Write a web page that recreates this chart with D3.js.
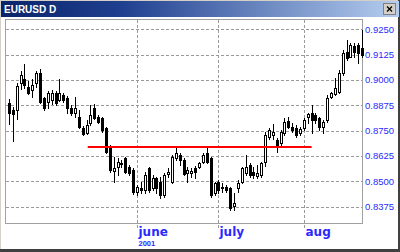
<!DOCTYPE html>
<html>
<head>
<meta charset="utf-8">
<script src="https://cdn.jsdelivr.net/npm/d3@7"></script>
<style>
  body { margin: 0; background: #fff; }
  svg { display: block; }
</style>
</head>
<body>
<svg id="chart" width="400" height="252"></svg>
<script>
// daily EURUSD candles, mid april -> late august 2001
let opens = [
  .8886, .8851, .8851, .8985, .9004, .8965, .8950, .8985, .9034, .8911,
  .8891, .8901, .8935, .8901, .8925, .8911, .8861, .8837, .8817, .8762,
  .8738, .8787, .8861, .8817, .8812, .8762, .8669, .8550, .8570, .8590,
  .8614, .8570, .8555, .8446, .8466, .8456, .8565, .8466, .8515, .8496,
  .8431, .8535, .8496, .8614, .8629, .8604, .8540, .8540, .8565, .8570,
  .8594, .8639, .8614, .8441, .8496, .8466, .8471, .8466, .8377, .8466,
  .8496, .8540, .8580, .8545, .8525, .8530, .8594, .8718, .8728, .8703,
  .8688, .8738, .8797, .8767, .8762, .8738, .8762, .8817, .8837, .8827,
  .8812, .8767, .8802, .8916, .8930, .8940, .9034, .9138, .9113, .9167,
  .9172, .9158
]
let highs = [
  .8906, .8866, .8985, .9044, .9079, .8995, .9004, .9044, .9054, .8916,
  .8945, .8950, .8945, .9004, .8935, .8921, .8876, .8916, .8851, .8772,
  .8802, .8876, .8881, .8827, .8817, .8767, .8678, .8619, .8614, .8604,
  .8619, .8580, .8565, .8481, .8496, .8545, .8570, .8530, .8520, .8520,
  .8540, .8565, .8629, .8664, .8639, .8614, .8570, .8565, .8575, .8594,
  .8639, .8664, .8619, .8496, .8506, .8491, .8481, .8471, .8441, .8506,
  .8570, .8629, .8590, .8570, .8580, .8594, .8743, .8762, .8782, .8713,
  .8753, .8812, .8817, .8787, .8777, .8767, .8812, .8837, .8876, .8837,
  .8817, .8802, .8925, .8940, .9009, .9049, .9148, .9197, .9182, .9182,
  .9182, .9247
]
let lows = [
  .8782, .8698, .8807, .8955, .8960, .8930, .8916, .8965, .8886, .8851,
  .8861, .8881, .8876, .8896, .8891, .8837, .8827, .8817, .8762, .8728,
  .8733, .8777, .8807, .8787, .8743, .8639, .8545, .8496, .8530, .8570,
  .8540, .8530, .8436, .8431, .8441, .8441, .8446, .8456, .8441, .8417,
  .8422, .8520, .8491, .8604, .8580, .8530, .8496, .8520, .8515, .8565,
  .8590, .8590, .8422, .8431, .8441, .8446, .8446, .8357, .8357, .8446,
  .8491, .8530, .8520, .8515, .8515, .8520, .8575, .8708, .8708, .8644,
  .8678, .8728, .8762, .8743, .8718, .8728, .8753, .8787, .8738, .8787,
  .8753, .8738, .8792, .8911, .8925, .8935, .9024, .9098, .9113, .9113,
  .9083, .9113
]
let closes = [
  .8837, .8832, .8970, .9024, .8975, .8935, .8975, .9034, .8891, .8861,
  .8935, .8935, .8886, .8935, .8901, .8861, .8837, .8861, .8767, .8733,
  .8777, .8827, .8812, .8792, .8753, .8644, .8555, .8565, .8594, .8587,
  .8545, .8540, .8446, .8471, .8456, .8530, .8456, .8515, .8466, .8431,
  .8530, .8545, .8619, .8639, .8604, .8535, .8555, .8550, .8545, .8590,
  .8629, .8594, .8431, .8491, .8456, .8471, .8456, .8367, .8392, .8491,
  .8565, .8570, .8530, .8530, .8540, .8590, .8728, .8753, .8743, .8678,
  .8743, .8792, .8767, .8753, .8728, .8757, .8802, .8832, .8802, .8802,
  .8767, .8792, .8911, .8935, .8960, .9034, .9133, .9108, .9172, .9138,
  .9133, .9123
]

let priceTicks = [0.8375, 0.8500, 0.8625, 0.8750, 0.8875, 0.9000, 0.9125, 0.9250]
let monthLabels = ["june", "july", "aug"]
let monthStarts = [33, 54, 76]      // index of first candle of the month
let yearLabel = "2001"

// the red horizontal line
let levelPrice = 0.8667
let levelFrom = 20.3
let levelTo = 78

let W = 400, H = 252
let plot = { left: 5, right: 362, top: 19, bottom: 223 }

let svg = d3.select('#chart')

let candles = opens.map((o, i) => ({ i: i, o: o, h: highs[i], l: lows[i], c: closes[i] }))

let x = d3.scaleLinear()
    .domain([-0.5, candles.length - 0.5])
    .range([7, 364])

let y = d3.scaleLinear()
    .domain([0.8375, 0.9250])
    .range([206.5, 29.3])

const px = v => Math.round(v) + 0.5

// window background + frame
svg.append('rect')
    .attr('x', 0.5).attr('y', 0.5)
    .attr('width', W - 1).attr('height', H - 1)
    .attr('fill', '#fff')
    .attr('stroke', '#d4d0c8')

svg.append('line')
    .attr('x1', 0).attr('x2', W)
    .attr('y1', H - 1.5).attr('y2', H - 1.5)
    .attr('stroke', '#404040').attr('stroke-width', 3)
svg.append('line')
    .attr('x1', W - 1).attr('x2', W - 1)
    .attr('y1', 0).attr('y2', H)
    .attr('stroke', '#404040').attr('stroke-width', 2)

// title bar
let grad = svg.append('defs').append('linearGradient')
    .attr('id', 'title-grad')
grad.append('stop').attr('offset', '0%').attr('stop-color', '#0a246a')
grad.append('stop').attr('offset', '30%').attr('stop-color', '#1f3f8f')
grad.append('stop').attr('offset', '100%').attr('stop-color', '#b4cdef')

svg.append('rect')
    .attr('x', 1).attr('y', 1)
    .attr('width', W - 2).attr('height', 16)
    .attr('fill', 'url(#title-grad)')

svg.append('text')
    .text('EURUSD D')
    .attr('x', 4).attr('y', 13)
    .attr('font-family', 'Arial, "Liberation Sans", sans-serif')
    .attr('font-weight', 'bold')
    .attr('font-size', '10px')
    .attr('fill', '#fff')

// close button
let btn = svg.append('g').attr('transform', 'translate(383,3)')
btn.append('rect')
    .attr('x', 0.5).attr('y', 0.5).attr('width', 12).attr('height', 11)
    .attr('fill', '#d4d0c8').attr('stroke', '#808080')
btn.append('path')
    .attr('d', 'M4,3.5 L9,8.5 M9,3.5 L4,8.5')
    .attr('stroke', '#000').attr('stroke-width', 1.3)

// plot frame
svg.append('rect')
    .attr('x', plot.left + 0.5).attr('y', plot.top + 0.5)
    .attr('width', plot.right - plot.left).attr('height', plot.bottom - plot.top)
    .attr('fill', '#fff')
    .attr('stroke', '#a0a0a0')

// horizontal grid + price labels
svg.append('g')
    .selectAll('line')
    .data(priceTicks)
    .join('line')
    .attr('x1', plot.left + 1).attr('x2', plot.right)
    .attr('y1', d => px(y(d))).attr('y2', d => px(y(d)))
    .attr('stroke', '#9a9a9a')
    .attr('stroke-dasharray', '3,2')

svg.append('g')
    .selectAll('text')
    .data(priceTicks)
    .join('text')
    .text(d => d.toFixed(4))
    .attr('x', plot.right + 3)
    .attr('y', d => y(d) + 3.5)
    .attr('font-family', 'Arial, "Liberation Sans", sans-serif')
    .attr('font-size', '9.5px')
    .attr('fill', '#2a2aff')

// vertical grid at month starts
svg.append('g')
    .selectAll('line')
    .data(monthStarts)
    .join('line')
    .attr('x1', d => px(x(d))).attr('x2', d => px(x(d)))
    .attr('y1', plot.top + 1).attr('y2', plot.bottom + 6)
    .attr('stroke', '#9a9a9a')
    .attr('stroke-dasharray', '3,2')

svg.append('g')
    .selectAll('text')
    .data(monthStarts)
    .join('text')
    .text((d, i) => monthLabels[i])
    .attr('x', d => px(x(d)) + 1)
    .attr('y', 236)
    .attr('font-family', '"DejaVu Sans", Verdana, sans-serif')
    .attr('font-weight', 'bold')
    .attr('font-size', '12px')
    .attr('fill', '#2a2aff')

svg.append('text')
    .text(yearLabel)
    .attr('x', px(x(monthStarts[0])) + 1)
    .attr('y', 246)
    .attr('font-family', 'Arial, "Liberation Sans", sans-serif')
    .attr('font-weight', 'bold')
    .attr('font-size', '7.5px')
    .attr('fill', '#2a2aff')

// candles
let g = svg.append('g')

g.selectAll('.wick')
    .data(candles)
    .join('line')
    .attr('class', 'wick')
    .attr('x1', d => px(x(d.i))).attr('x2', d => px(x(d.i)))
    .attr('y1', d => Math.round(y(d.h))).attr('y2', d => Math.round(y(d.l)) + 1)
    .attr('stroke', '#000')

g.selectAll('.body')
    .data(candles)
    .join('rect')
    .attr('class', 'body')
    .attr('x', d => px(x(d.i)) - 1)
    .attr('y', d => Math.round(y(Math.max(d.o, d.c))) + 0.5)
    .attr('width', 2)
    .attr('height', d => Math.max(1, Math.round(y(Math.min(d.o, d.c))) - Math.round(y(Math.max(d.o, d.c)))))
    .attr('fill', d => d.c >= d.o ? '#fff' : '#000')
    .attr('stroke', '#000')

// red level line
svg.append('line')
    .attr('x1', x(levelFrom)).attr('x2', x(levelTo))
    .attr('y1', Math.round(y(levelPrice))).attr('y2', Math.round(y(levelPrice)))
    .attr('stroke', '#ff0000')
    .attr('stroke-width', 2)
</script>
</body>
</html>
